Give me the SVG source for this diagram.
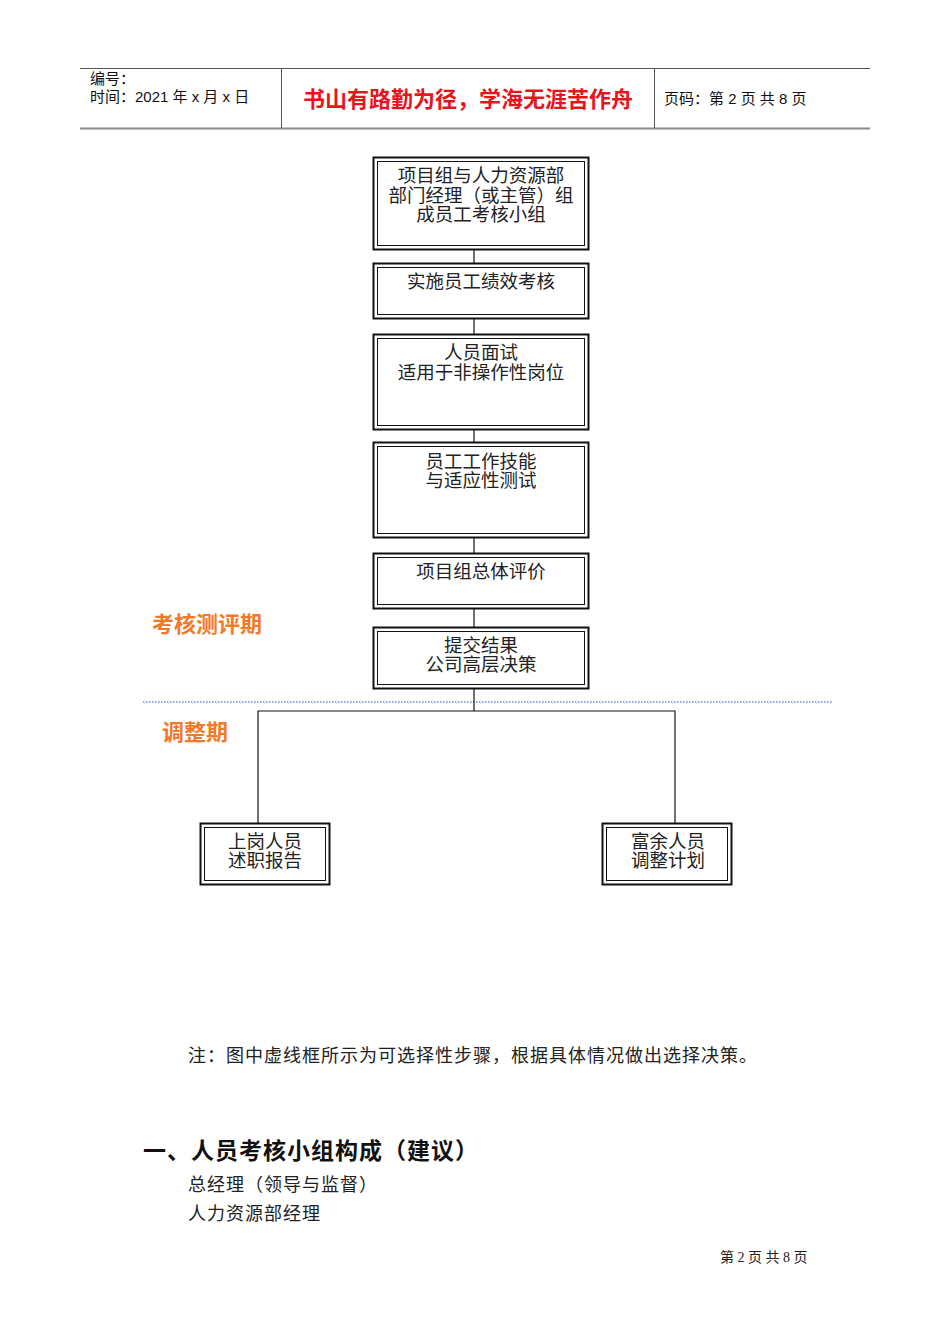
<svg xmlns="http://www.w3.org/2000/svg" width="950" height="1344" viewBox="0 0 950 1344">
<style>
.t{font-family:"Liberation Serif","Noto Sans CJK SC",serif;font-size:18.5px;fill:#222;text-anchor:middle}
.o{stroke:#111;stroke-width:2;fill:#fff}
.i{stroke:#111;stroke-width:1;fill:none}
.c{stroke:#111;stroke-width:1.2;fill:none}
.lab{font-family:"Liberation Sans","Noto Sans CJK SC",sans-serif;font-size:22px;font-weight:bold;fill:#f07a28}
.h{font-family:"Liberation Sans","Noto Sans CJK SC",sans-serif;font-size:15px;fill:#111}
.b{font-family:"Liberation Serif","Noto Sans CJK SC",serif;font-size:18px;fill:#222;letter-spacing:1px}
</style>
<rect width="950" height="1344" fill="#fff"/>
<g id="header">
<line x1="80" y1="68.5" x2="870" y2="68.5" stroke="#555" stroke-width="1"/>
<line x1="80" y1="128.5" x2="870" y2="128.5" stroke="#888" stroke-width="2"/>
<line x1="281.5" y1="68" x2="281.5" y2="128" stroke="#555" stroke-width="1"/>
<line x1="654.5" y1="68" x2="654.5" y2="128" stroke="#555" stroke-width="1"/>
<text class="h" x="90" y="84">编号：</text>
<text class="h" x="90" y="102" xml:space="preserve">时间：2021 年 x 月 x 日</text>
<text x="468" y="107" text-anchor="middle" font-family="Liberation Sans,Noto Sans CJK SC,sans-serif" font-size="22" font-weight="bold" fill="#e8141c">书山有路勤为径，学海无涯苦作舟</text>
<text class="h" x="664" y="104" xml:space="preserve">页码：第 2 页 共 8 页</text>
</g>
<g id="connectors">
<line class="c" x1="474" y1="250" x2="474" y2="263"/>
<line class="c" x1="474" y1="319" x2="474" y2="334"/>
<line class="c" x1="474" y1="430" x2="474" y2="442"/>
<line class="c" x1="474" y1="538" x2="474" y2="553"/>
<line class="c" x1="474" y1="609" x2="474" y2="627"/>
<polyline class="c" points="474,689 474,711"/>
<polyline class="c" points="258,823 258,711 675,711 675,823"/>
</g>
<line id="divider" x1="143" y1="702" x2="832" y2="702" stroke="#3344cc" stroke-width="1.2" stroke-dasharray="1.5,1.5"/>
<g id="n1"><rect class="o" x="373.5" y="157.5" width="215" height="92"/><rect class="i" x="377.5" y="161.5" width="207" height="84"/>
<text class="t" x="481" y="182">项目组与人力资源部</text><text class="t" x="481" y="202">部门经理（或主管）组</text><text class="t" x="481" y="221">成员工考核小组</text></g>
<g id="n2"><rect class="o" x="373.5" y="263.5" width="215" height="55"/><rect class="i" x="377.5" y="267.5" width="207" height="47"/>
<text class="t" x="481" y="288">实施员工绩效考核</text></g>
<g id="n3"><rect class="o" x="373.5" y="334.5" width="215" height="95"/><rect class="i" x="377.5" y="338.5" width="207" height="87"/>
<text class="t" x="481" y="359">人员面试</text><text class="t" x="481" y="379">适用于非操作性岗位</text></g>
<g id="n4"><rect class="o" x="373.5" y="442.5" width="215" height="95"/><rect class="i" x="377.5" y="446.5" width="207" height="87"/>
<text class="t" x="481" y="468">员工工作技能</text><text class="t" x="481" y="487">与适应性测试</text></g>
<g id="n5"><rect class="o" x="373.5" y="553.5" width="215" height="55"/><rect class="i" x="377.5" y="557.5" width="207" height="47"/>
<text class="t" x="481" y="578">项目组总体评价</text></g>
<g id="n6"><rect class="o" x="373.5" y="627.5" width="215" height="61"/><rect class="i" x="377.5" y="631.5" width="207" height="53"/>
<text class="t" x="481" y="652">提交结果</text><text class="t" x="481" y="671">公司高层决策</text></g>
<g id="n7"><rect class="o" x="200.5" y="823.5" width="129" height="61"/><rect class="i" x="204.5" y="827.5" width="121" height="53"/>
<text class="t" x="265" y="848">上岗人员</text><text class="t" x="265" y="867">述职报告</text></g>
<g id="n8"><rect class="o" x="602.5" y="823.5" width="129" height="61"/><rect class="i" x="606.5" y="827.5" width="121" height="53"/>
<text class="t" x="668" y="848">富余人员</text><text class="t" x="668" y="867">调整计划</text></g>
<text class="lab" x="152" y="632">考核测评期</text>
<text class="lab" x="162" y="740">调整期</text>
<text class="b" x="188" y="1062">注：图中虚线框所示为可选择性步骤，根据具体情况做出选择决策。</text>
<text x="143" y="1159" font-family="Liberation Sans,Noto Sans CJK SC,sans-serif" font-size="23" font-weight="bold" fill="#111" letter-spacing="1">一、人员考核小组构成（建议）</text>
<text class="b" x="188" y="1191">总经理（领导与监督）</text>
<text class="b" x="188" y="1220">人力资源部经理</text>
<text x="720" y="1262" font-family="Liberation Serif,Noto Sans CJK SC,serif" font-size="14" fill="#222" xml:space="preserve">第 2 页 共 8 页</text>
</svg>
